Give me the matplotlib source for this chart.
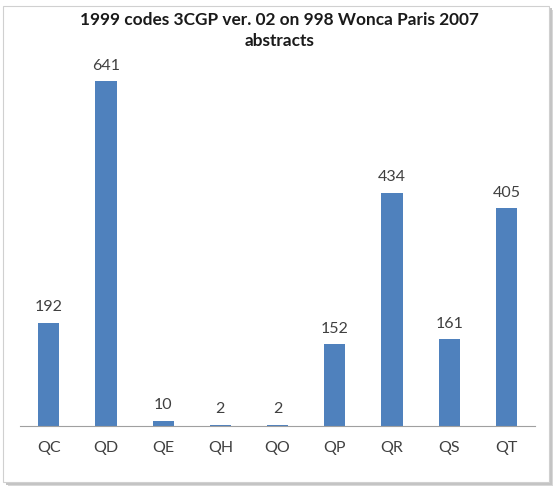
import matplotlib
matplotlib.use('Agg')
import matplotlib.pyplot as plt
from matplotlib.patches import Rectangle

codes = ['QC', 'QD', 'QE', 'QH', 'QO', 'QP', 'QR', 'QS', 'QT']
counts = [192, 641, 10, 2, 2, 152, 434, 161, 405]

plt.rcParams['font.family'] = ['Lato', 'DejaVu Sans']

fig = plt.figure(figsize=(5.59, 4.88), dpi=100)

# chart frame with a soft shadow
for off, c in [(0.008, '#d8d8d8'), (0.005, '#c4c4c4')]:
    fig.patches.append(Rectangle((0.006 + off, 0.012 - off), 0.976, 0.976, transform=fig.transFigure,
                                 facecolor=c, edgecolor='none', zorder=-2))
fig.patches.append(Rectangle((0.006, 0.012), 0.976, 0.976, transform=fig.transFigure,
                             facecolor='white', edgecolor='#d0d0d0', linewidth=0.8, zorder=-1))

ax = fig.add_axes([0.036, 0.127, 0.921, 0.771])
ax.set_zorder(5)
ax.set_facecolor('none')
x = range(len(codes))
bars = ax.bar(x, counts, width=0.37, color='#4F81BD', zorder=2)
for b, v in zip(bars, counts):
    ax.text(b.get_x() + b.get_width() / 2, v + 16, str(v), ha='center', va='bottom',
            fontsize=11.5, color='#404040')

ax.set_xlim(-0.5, len(codes) - 0.5)
ax.set_ylim(0, 700)
ax.set_yticks([])
ax.set_xticks(list(x))
ax.set_xticklabels(codes, fontsize=11.5, color='#404040')
ax.tick_params(axis='x', length=0, pad=11)
for s in ['top', 'right', 'left']:
    ax.spines[s].set_visible(False)
ax.spines['bottom'].set_color('#a0a0a0')

fig.text(0.5, 0.975, '1999 codes 3CGP ver. 02 on 998 Wonca Paris 2007\nabstracts',
         ha='center', va='top', fontsize=12.4, fontweight='bold', color='#1a1a1a',
         linespacing=1.4, zorder=6)

fig.savefig('out.png', dpi=100)
